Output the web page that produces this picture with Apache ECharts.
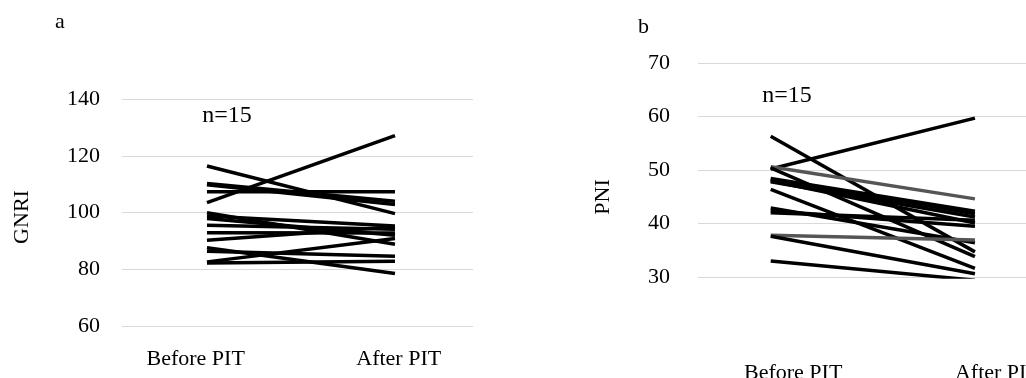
<!DOCTYPE html>
<html lang="en" style="height: 100%">
<head>
<meta charset="utf-8">
<title>GNRI and PNI before and after PIT</title>
</head>
<body style="height: 100%; margin: 0; background: #fff">
<div id="container" style="width: 1026px; height: 378px"></div>

<script type="text/javascript" src="https://cdn.jsdelivr.net/npm/echarts/dist/echarts.min.js"></script>

<script type="text/javascript">

var categories = ['Before PIT', 'After PIT'];

// panel a: GNRI, one entry per patient (n=15)
var gnriBefore = [116.4, 103.5, 110.2, 109.8, 107.3, 99.9, 98.8, 97.9, 95.5, 92.9, 90.2, 87.6, 86.3, 82.6, 82.2];
var gnriAfter  = [ 99.6, 127.1, 104.0, 102.8, 107.3, 88.8, 95.2, 92.0, 94.1, 92.8, 95.0, 78.5, 84.6, 90.8, 82.8];
var gnriTicks  = [60, 80, 100, 120, 140];

// panel b: PNI
var pniBefore = [56.3, 50.2, 50.6, 50.4, 48.4, 48.2, 47.8, 46.4, 48.0, 42.9, 42.4, 42.0, 37.8, 37.6, 33.0];
var pniAfter  = [34.7, 59.7, 44.6, 33.8, 42.3, 41.8, 41.2, 31.6, 40.1, 36.4, 39.5, 40.6, 36.9, 30.6, 29.4];
var pniGrey   = [2, 12];   // the two lines drawn in dark grey
var pniTicks  = [30, 40, 50, 60, 70];

var font = 'Liberation Serif';
var dom = document.getElementById('container');
var myChart = echarts.init(dom);

function pairSeries(before, after, axis, grey) {
    return before.map(function (b, i) {
        var g = grey && grey.indexOf(i) >= 0;
        return {
            type: 'line',
            xAxisIndex: axis,
            yAxisIndex: axis,
            symbol: 'none',
            silent: true,
            lineStyle: { width: 3.5, color: g ? '#555555' : '#000000' },
            data: [[0, b], [1, after[i]]]
        };
    });
}

function catAxis(idx, min, max, labelAt, margin) {
    return {
        type: 'value',
        gridIndex: idx,
        min: min,
        max: max,
        axisLine: { show: false },
        axisTick: { show: false },
        splitLine: { show: false },
        axisLabel: {
            customValues: labelAt,
            margin: margin,
            fontFamily: font,
            fontSize: 22,
            color: '#000',
            formatter: function (v) { return categories[Math.round(v)]; }
        }
    };
}

function valAxis(idx, ticks, margin) {
    return {
        type: 'value',
        gridIndex: idx,
        min: ticks[0],
        max: ticks[ticks.length - 1],
        interval: ticks[1] - ticks[0],
        axisLine: { show: false },
        axisTick: { show: false },
        splitLine: { lineStyle: { color: '#d9d9d9', width: 1 } },
        axisLabel: { margin: margin, fontFamily: font, fontSize: 22, color: '#000' }
    };
}

var option = {
    animation: false,
    backgroundColor: '#fff',
    grid: [
        { left: 122, top: 99, width: 351, height: 227, outerBoundsMode: 'none' },
        { left: 698, top: 63, width: 328, height: 214, outerBoundsMode: 'none' }
    ],
    xAxis: [
        catAxis(0, -0.452, 1.415, [-0.06, 1.02], 22),
        catAxis(1, -0.356, 1.25, [0.11, 1.11], 85)
    ],
    yAxis: [
        valAxis(0, gnriTicks, 22),
        valAxis(1, pniTicks, 28)
    ],
    graphic: [
        { type: 'text', left: 55, top: 11, style: { text: 'a', font: '22px "Liberation Serif"', fill: '#000' } },
        { type: 'text', left: 638, top: 16, style: { text: 'b', font: '22px "Liberation Serif"', fill: '#000' } },
        { type: 'text', x: 227, y: 116, style: { text: 'n=15', font: '24px "Liberation Serif"', fill: '#000', align: 'center', verticalAlign: 'middle' } },
        { type: 'text', x: 787, y: 96, style: { text: 'n=15', font: '24px "Liberation Serif"', fill: '#000', align: 'center', verticalAlign: 'middle' } },
        { type: 'text', x: 22, y: 217, rotation: Math.PI / 2, style: { text: 'GNRI', font: '22px "Liberation Serif"', fill: '#000', align: 'center', verticalAlign: 'middle' } },
        { type: 'text', x: 603, y: 197, rotation: Math.PI / 2, style: { text: 'PNI', font: '22px "Liberation Serif"', fill: '#000', align: 'center', verticalAlign: 'middle' } }
    ],
    series: pairSeries(gnriBefore, gnriAfter, 0, null)
        .concat(pairSeries(pniBefore, pniAfter, 1, pniGrey))
};

myChart.setOption(option);
window.addEventListener('resize', myChart.resize);
</script>
</body>
</html>
